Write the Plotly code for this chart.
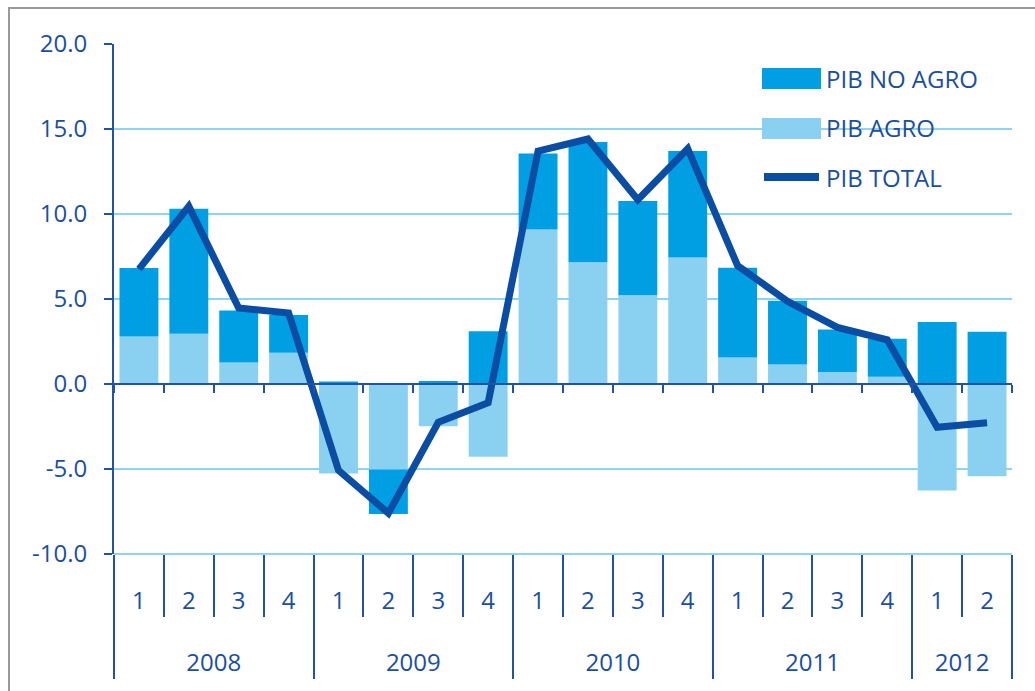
import plotly.graph_objects as go

# ---- data ----
years = ["2008"] * 4 + ["2009"] * 4 + ["2010"] * 4 + ["2011"] * 4 + ["2012"] * 2
quarters = ["1", "2", "3", "4"] * 4 + ["1", "2"]
pib_agro = [2.8, 2.96, 1.27, 1.84, -5.26, -5.03, -2.48, -4.28, 9.09, 7.16, 5.22, 7.44,
            1.56, 1.14, 0.71, 0.43, -6.26, -5.43]
pib_no_agro = [4.02, 7.35, 3.06, 2.22, 0.15, -2.61, 0.17, 3.1, 4.47, 7.08, 5.54, 6.26,
               5.28, 3.76, 2.5, 2.23, 3.65, 3.08]
pib_total = [6.76, 10.45, 4.47, 4.18, -5.08, -7.6, -2.25, -1.1, 13.7, 14.41, 10.84, 13.84,
             6.96, 4.86, 3.33, 2.6, -2.55, -2.28]
y_ticks = [-10, -5, 0, 5, 10, 15, 20]

# ---- style ----
C_NOAGRO = "#009FE3"
C_AGRO = "#8AD1F1"
C_TOTAL = "#0B4DA2"
C_TEXT = "#1B4F9E"
C_AXIS = "#2252A3"
C_GRID = "#8ED3F3"
FONT = "Open Sans"
FS = 24

W, H = 1035, 691
L, R, T, B = 114, 23, 44, 137
PW, PH = W - L - R, H - T - B


def px(x):
    return (x - L) / PW


def py(y):
    return (H - B - y) / PH


xcat = [years, quarters]
n = len(quarters)
centers = list(range(n))
bounds = [i - 0.5 for i in range(n + 1)]
year_bounds = [-0.5] + [i - 0.5 for i in range(1, n) if years[i] != years[i - 1]] + [n - 0.5]
year_names = []
year_centers = []
for yname in dict.fromkeys(years):
    idx = [i for i, v in enumerate(years) if v == yname]
    year_names.append(yname)
    year_centers.append(sum(idx) / len(idx))

fig = go.Figure()
fig.add_trace(go.Bar(x=xcat, y=pib_agro, name="PIB AGRO", marker=dict(color=C_AGRO, line=dict(width=0))))
fig.add_trace(go.Bar(x=xcat, y=pib_no_agro, name="PIB NO AGRO", marker=dict(color=C_NOAGRO, line=dict(width=0))))
fig.add_trace(go.Scatter(x=xcat, y=pib_total, name="PIB TOTAL", mode="lines",
                         line=dict(color=C_TOTAL, width=7)))

# empty helper traces so that the decorative overlay axes get rendered
for ax in ["x2", "x3", "x4", "x5", "x6"]:
    fig.add_trace(go.Scatter(x=[], y=[], xaxis=ax, yaxis="y", showlegend=False, hoverinfo="skip"))

common_free = dict(overlaying="x", anchor="free", range=[-0.5, n - 0.5], showgrid=False,
                   zeroline=False, tickmode="array", tickcolor=C_AXIS, tickwidth=2,
                   tickfont=dict(family=FONT, size=FS, color=C_TEXT))

fig.update_layout(
    width=W, height=H,
    margin=dict(l=L, r=R, t=T, b=B),
    paper_bgcolor="white", plot_bgcolor="white",
    barmode="relative", bargap=0.22,
    showlegend=False,
    font=dict(family=FONT, size=FS, color=C_TEXT),
    xaxis=dict(type="multicategory", range=[-0.5, n - 0.5], showgrid=False, zeroline=False,
               showline=False, ticks="", showdividers=False, showticklabels=False),
    # zero line with short boundary ticks
    xaxis2=dict(position=1 / 3, showline=True, linecolor=C_AXIS, linewidth=2,
                tickvals=bounds, ticks="outside", ticklen=8, showticklabels=False, **common_free),
    # quarter separators (+ bottom gridline at -10)
    xaxis3=dict(position=0, showline=True, linecolor=C_GRID, linewidth=2, layer="below traces",
                tickvals=bounds, ticks="outside", ticklen=62,
                showticklabels=False, **common_free),
    # year separators
    xaxis4=dict(position=0, showline=False, tickvals=year_bounds, ticks="outside", ticklen=124,
                showticklabels=False, **common_free),
    # quarter labels
    xaxis5=dict(position=0, showline=False, tickvals=centers, ticktext=quarters, ticks="",
                ticklabelstandoff=30, **common_free),
    # year labels
    xaxis6=dict(position=0, showline=False, tickvals=year_centers, ticktext=year_names, ticks="",
                ticklabelstandoff=92, **common_free),
    yaxis=dict(range=[-10, 20], tickvals=y_ticks, ticktext=[f"{v:.1f}" for v in y_ticks],
               showgrid=True, gridcolor=C_GRID, gridwidth=2, zeroline=False, showline=True,
               linecolor=C_AXIS, linewidth=2, ticks="outside", ticklen=8, tickwidth=2,
               tickcolor=C_AXIS, ticklabelstandoff=12,
               tickfont=dict(family=FONT, size=FS, color=C_TEXT)),
)

shapes = []
# outer border
shapes.append(dict(type="rect", xref="paper", yref="paper", x0=px(9), x1=px(1045), y0=py(8), y1=py(705),
                   line=dict(color="#9A9A9A", width=2), fillcolor="rgba(0,0,0,0)", layer="above"))
# custom legend swatches
shapes.append(dict(type="rect", xref="paper", yref="paper", x0=px(762), x1=px(821), y0=py(89), y1=py(68),
                   line=dict(width=0), fillcolor=C_NOAGRO, layer="above"))
shapes.append(dict(type="rect", xref="paper", yref="paper", x0=px(762), x1=px(821), y0=py(139), y1=py(118),
                   line=dict(width=0), fillcolor=C_AGRO, layer="above"))
shapes.append(dict(type="line", xref="paper", yref="paper", x0=px(764), x1=px(819), y0=py(177), y1=py(177),
                   line=dict(color=C_TOTAL, width=8), layer="above"))
fig.update_layout(shapes=shapes)

for label, yy in [("PIB NO AGRO", 78), ("PIB AGRO", 128), ("PIB TOTAL", 178)]:
    fig.add_annotation(text=label, xref="paper", yref="paper", x=px(824), y=py(yy),
                       xanchor="left", yanchor="middle", showarrow=False,
                       font=dict(family=FONT, size=FS, color=C_TEXT))

fig.write_html("out.html", config={"displayModeBar": False},
               post_script="document.body.style.margin='0';document.body.style.padding='0';")
